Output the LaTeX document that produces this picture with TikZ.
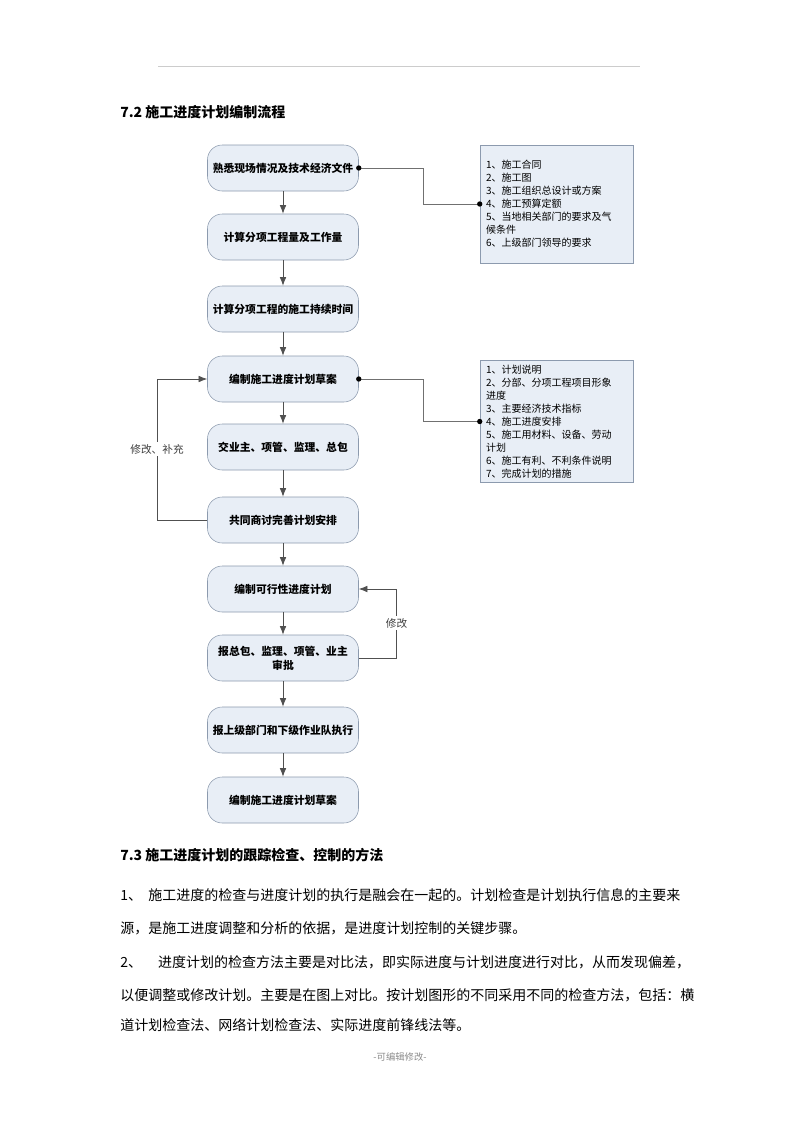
\documentclass[tikz,border=0pt]{standalone}
\usepackage{fontspec}
\setmainfont{Noto Sans CJK SC}
\usetikzlibrary{arrows.meta}
\definecolor{nodefill}{HTML}{E8EEF6}
\definecolor{nodeline}{HTML}{8C9AAE}
\definecolor{conn}{HTML}{505050}
\definecolor{linkc}{HTML}{707070}
\begin{document}
\begin{tikzpicture}[x=0.75pt,y=-0.75pt,
  proc/.style={draw=nodeline, fill=nodefill, rounded corners=11pt, minimum width=113.25pt, minimum height=34.5pt, font=\fontsize{8.1}{10.5}\selectfont\bfseries, align=center, inner sep=2pt},
  sidebox/.style={draw=nodeline, fill=nodefill, align=left, text width=105.75pt, inner xsep=4.5pt, font=\fontsize{7.5}{9.75}\selectfont},
  arr/.style={draw=conn, line width=0.6pt, -{Latex[length=6.5pt,width=5pt]}},
  link/.style={draw=linkc, line width=0.5pt},
  lbl/.style={fill=white, inner sep=1.5pt, text=black!75, font=\fontsize{8}{9}\selectfont},
  head/.style={anchor=west, inner sep=0pt, font=\fontsize{10.5}{12}\selectfont\bfseries},
  body/.style={anchor=west, inner sep=0pt, font=\fontsize{10.5}{12}\selectfont}]
\useasboundingbox (0,0) rectangle (800,1132);
\fill[white] (0,0) rectangle (800,1132);
% header rule
\coordinate (r1) at (158,66);
\coordinate (r2) at (640,66);
\draw[black!20, line width=0.6pt] (r1) -- (r2);
\node[head] (h1) at (120,112) {7.2 施工进度计划编制流程};
% flow nodes
\node[proc] (n1) at (283,168) {熟悉现场情况及技术经济文件};
\node[proc] (n2) at (283,237) {计算分项工程量及工作量};
\node[proc] (n3) at (283,309) {计算分项工程的施工持续时间};
\node[proc] (n4) at (283,379) {编制施工进度计划草案};
\node[proc] (n5) at (283,447) {交业主、项管、监理、总包};
\node[proc] (n6) at (283,520) {共同商讨完善计划安排};
\node[proc] (n7) at (283,589) {编制可行性进度计划};
\node[proc] (n8) at (283,658) {报总包、监理、项管、业主\\审批};
\node[proc] (n9) at (283,730) {报上级部门和下级作业队执行};
\node[proc] (n10) at (283,800) {编制施工进度计划草案};
% side boxes
\node[sidebox, minimum height=88.5pt] (b1) at (556.5,204) {1、施工合同\\2、施工图\\3、施工组织总设计或方案\\4、施工预算定额\\5、当地相关部门的要求及气\\候条件\\6、上级部门领导的要求};
\node[sidebox, minimum height=89.25pt] (b2) at (556.5,421.5) {1、计划说明\\2、分部、分项工程项目形象\\进度\\3、主要经济技术指标\\4、施工进度安排\\5、施工用材料、设备、劳动\\计划\\6、施工有利、不利条件说明\\7、完成计划的措施};
% arrows
\foreach \a/\b in {n1/n2,n2/n3,n3/n4,n4/n5,n5/n6,n6/n7,n7/n8,n8/n9,n9/n10}
  \draw[arr] (\a) -- (\b);
% side links
\draw[link] (n1.east) -- ++(64.5,0) |- (b1.west);
\fill (n1.east) circle (2pt);
\fill (b1.west) circle (2pt);
\draw[link] (n4.east) -- ++(64.5,0) |- (b2.west);
\fill (n4.east) circle (2pt);
\fill (b2.west) circle (2pt);
% feedback loops
\draw[arr] (n6.west) -- ++(-49.5,0) |- (n4.west);
\node[lbl] (m1) at (157,449) {修改、补充};
\draw[arr] (n8.east) -- ++(38,0) |- (n7.east);
\node[lbl] (m2) at (396.5,623) {修改};
% section 7.3
\node[head] (h2) at (120,855) {7.3 施工进度计划的跟踪检查、控制的方法};
\node[body] (p1) at (120,895) {1、\hspace{4.7pt}施工进度的检查与进度计划的执行是融会在一起的。计划检查是计划执行信息的主要来};
\node[body] (p2) at (120,928) {源，是施工进度调整和分析的依据，是进度计划控制的关键步骤。};
\node[body] (p3) at (120,962) {2、\hspace{12pt}进度计划的检查方法主要是对比法，即实际进度与计划进度进行对比，从而发现偏差，};
\node[body] (p4) at (120,995) {以便调整或修改计划。主要是在图上对比。按计划图形的不同采用不同的检查方法，包括：横};
\node[body] (p5) at (120,1025) {道计划检查法、网络计划检查法、实际进度前锋线法等。};
\node[text=black!45, font=\fontsize{7}{8}\selectfont] (f1) at (400,1057) {-可编辑修改-};
\end{tikzpicture}
\end{document}
